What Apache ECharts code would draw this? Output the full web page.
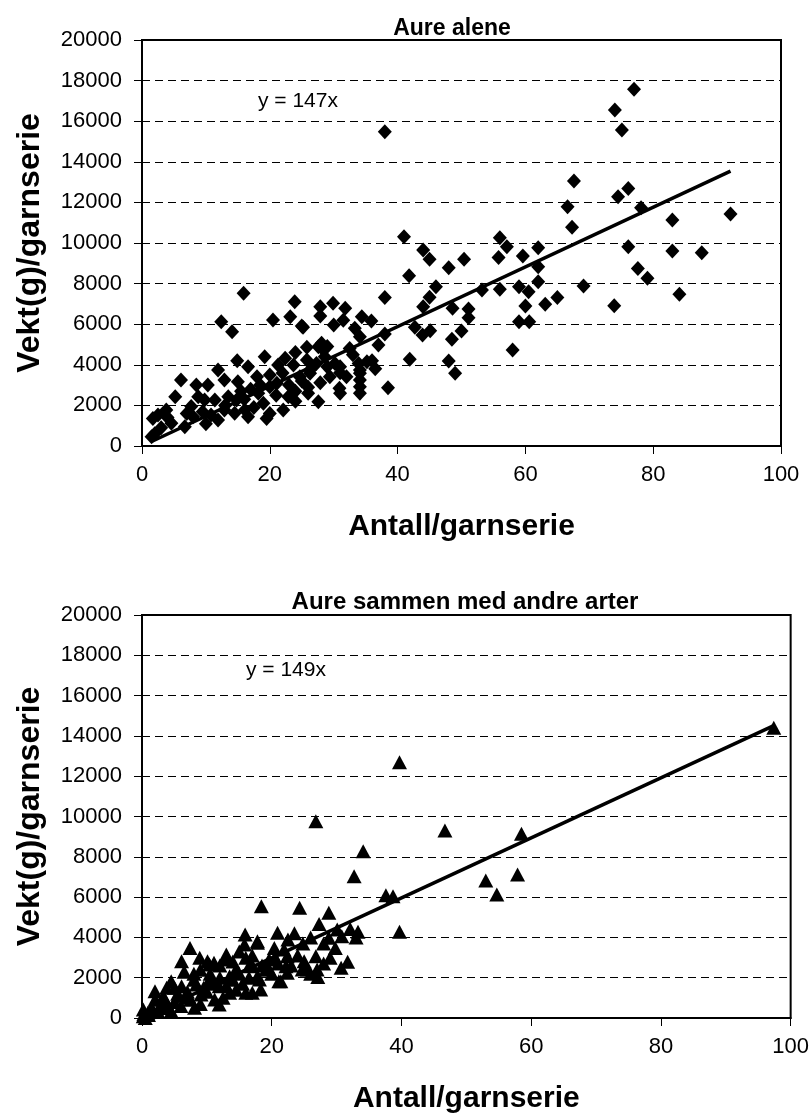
<!DOCTYPE html>
<html>
<head>
<meta charset="utf-8">
<script src="https://cdn.jsdelivr.net/npm/echarts@6/dist/echarts.min.js"></script>
<style>
html,body{margin:0;padding:0;background:#fff;}
#c{width:812px;height:1118px;}
</style>
</head>
<body>
<div id="c"></div>
<script>
// ---- Data ----
var titles = ['Aure alene', 'Aure sammen med andre arter'];
var xAxisTitle = 'Antall/garnserie';
var yAxisTitle = 'Vekt(g)/garnserie';
var slopes = [147, 149];
var equations = ['y = 147x', 'y = 149x'];
var xTicks = [0, 20, 40, 60, 80, 100];
var yTicks = [0, 2000, 4000, 6000, 8000, 10000, 12000, 14000, 16000, 18000, 20000];

// Aure alene: Antall (x) and Vekt (y)
var aloneCount = [77,74,75.1,38,67.6,66.6,67.3,74.5,76.1,78.1,83,92.1,56,57.1,55.8,59.6,62,62,62,76.1,77.6,79.1,83,87.6,84.1,73.9,69.1,65,63.1,56,59,60.5,60,59,60.6,58,53.2,
41,44,45,48,50.4,41.8,46,38,45,44,48.6,51.1,51.1,42.7,45.1,43.9,50,48.5,38,37,41.9,48,49,38.5,
27.9,29.9,31.8,27.9,31.5,30,34.4,35.9,33.3,34.1,25.2,25.8,27.6,28.6,25.8,30.2,33.9,35.2,34.1,31,26.3,27.9,30.9,34.1,
23.9,20.5,23.2,25,28.1,19.2,22.4,23.7,27.3,31,34.1,32,34.1,20,22.9,26,27.6,31,34.1,22.1,18,18.2,19,21.1,24.7,26.3,28.4,29.4,21.3,
12.4,14.1,6.1,5.2,11.9,14.9,16.6,8.5,10.3,12.9,15,3.8,2.5,1.7,4.6,1.5,6.7,8,9.5,10.8,11.9,9.8,11.4,13.5,14.8,16.1,16.6,14.5,12.9,8.8,7.7,15.9,19.5,
17,18.5,16,20,21,23,24,25,26,17.5,13,15.5,2,3,4,22,24,29,32.5,36,29,33,24,20,10,7,36.5];
var aloneWeight = [17570,16550,15570,15480,13050,11790,10770,12280,12690,11740,11130,11430,10260,9820,9280,9360,9770,8830,8090,9820,8750,8260,9610,9520,7470,6910,7880,7310,6980,7720,7850,7600,6900,6120,6120,4730,7680,
10310,9650,9200,8780,9200,8390,7850,7310,7330,6860,6780,6750,6320,5850,5680,5470,5660,5260,5520,4980,4270,4190,3580,2870,
6860,7030,6780,6400,6200,5960,6370,6160,5800,5380,5850,4860,4890,4400,4240,4070,4070,4150,3580,3610,3580,3120,2840,2920,
7110,6210,6370,5910,5060,4400,4320,3990,4070,3910,3740,3410,3250,2920,2430,2600,2180,2600,2600,1770,3410,2600,2100,3090,3410,3740,4730,3410,3990,
6120,5630,3250,2430,3740,4200,3910,3000,3000,3250,3170,1770,1530,1360,1120,460,950,1440,1690,1530,1280,2270,2270,2430,2270,1770,1440,1610,1770,2430,1940,7520,1360,
2800,3000,2300,3500,2500,3000,2200,3200,2900,1900,2000,2700,600,900,1400,3600,4600,4900,4800,4200,3900,4500,2700,1600,1100,1600,3800];

// Aure sammen med andre arter
var mixedCount = [39.7,26.8,46.7,58.5,34.1,32.7,53,57.9,54.7,37.6,38.7,39.7,24.3,18.4,28.8,27.3,32.1,33.3,30.1,30.8,28.8,24.8,29.8,26.8,29,25,31.7,30.7,27,25.5,27.1,
20.9,17.8,20.4,22.4,22.2,19.1,21.4,17,18.1,19.6,7.4,8.9,6.1,10.4,13,15.9,15.8,17.8,21.9,16,24.7,22.4,21.1,
2,4.5,6.1,3.3,8.4,10.4,11.9,13.5,14.5,16,13.5,11.2,8.1,4.5,0.2,1.2,2.8,6.8,9.1,11.9,17.8,18.3,19.6,16.5,0.2,0.9,3.5,11.1,10.1,97.4,
1,1.5,2.5,3,4,5,5.5,6,7,7.5,8,9,9.5,10,10.5,11,12,12.5,13,14,14.5,15,15.5,16.5,17,9,12,14,18.5,20,21,23,24,26,28,0.5,0.3,2,3.8,5,6.5,8,12.8,15,17,20.5,22.5,23.5,28,33,26];
var mixedWeight = [12690,9760,9300,9150,8270,7030,6820,7120,6130,6090,6040,4280,5470,5540,5220,4670,4420,4280,4390,4060,3980,3700,3480,3070,2990,2820,2790,2490,2410,2410,2040,
4230,3810,3480,3070,2570,2410,1830,1250,1910,2900,3480,2990,2820,2650,3150,4140,3650,3730,3400,2990,2410,2240,1830,
1330,1830,1580,1080,1660,1910,1580,2070,2410,1250,1250,920,510,340,90,340,590,1000,1170,670,2070,1410,2410,2570,420,260,920,2740,2820,14400,
150,500,300,700,500,800,1200,600,1300,900,1900,700,1500,1300,2200,1700,2000,1000,1600,1900,1400,2200,1700,2000,2600,2400,2600,2800,2600,2200,2700,2600,3100,2200,2700,0,200,900,1500,1500,2300,2200,2900,3300,3100,3000,3900,4200,3700,4000,4000];

// ---- Build ----
function zip(a, b){ var r=[]; for(var i=0;i<a.length;i++) r.push([a[i], b[i]]); return r; }
function trend(xs, k){
  var mn=Math.min.apply(null,xs), mx=Math.max.apply(null,xs);
  return [[mn, k*mn],[mx, k*mx]];
}
var FONT = 'Liberation Sans';
var grids = [
  {left:142, right:31, top:40, height:406},
  {left:142, right:18, top:615, height:403}
];
function xAx(i){
  return {type:'value', gridIndex:i, min:xTicks[0], max:xTicks[xTicks.length-1], interval:20,
    name:xAxisTitle, nameLocation:'middle', nameGap:66,
    nameTextStyle:{fontFamily:FONT, fontSize:30, fontWeight:'bold', color:'#000'},
    axisLine:{show:true, lineStyle:{color:'#000', width:2}},
    axisTick:{show:true, inside:false, length:8, lineStyle:{color:'#000', width:1}},
    axisLabel:{fontFamily:FONT, fontSize:22, color:'#000', margin:18, formatter:function(v){return String(v);}},
    splitLine:{show:false}};
}
function yAx(i){
  return {type:'value', gridIndex:i, min:yTicks[0], max:yTicks[yTicks.length-1], interval:2000,
    name:yAxisTitle, nameLocation:'middle', nameGap:96, nameRotate:90,
    nameTextStyle:{fontFamily:FONT, fontSize:32, fontWeight:'bold', color:'#000'},
    axisLine:{show:true, lineStyle:{color:'#000', width:2}},
    axisTick:{show:true, inside:false, length:8, lineStyle:{color:'#000', width:1}},
    axisLabel:{fontFamily:FONT, fontSize:22, color:'#000', margin:20, formatter:function(v){return String(v);}},
    splitLine:{show:true, lineStyle:{color:'#000', width:1, type:[8,5]}}};
}
var option = {
  animation:false,
  backgroundColor:'#fff',
  grid: grids.map(function(g){ return Object.assign({show:true, borderColor:'#000', borderWidth:2, backgroundColor:'#fff'}, g); }),
  xAxis:[xAx(0), xAx(1)],
  yAxis:[yAx(0), yAx(1)],
  title:[
    {text:titles[0], left:447, top:12, textAlign:'center', textStyle:{fontFamily:FONT, fontSize:23, fontWeight:'bold', color:'#000'}},
    {text:titles[1], left:460, top:585, textAlign:'center', textStyle:{fontFamily:FONT, fontSize:24, fontWeight:'bold', color:'#000'}}
  ],
  graphic:[
    {type:'text', left:258, top:91, style:{text:equations[0], font:'21px "Liberation Sans"', fill:'#000'}},
    {type:'text', left:246, top:660, style:{text:equations[1], font:'21px "Liberation Sans"', fill:'#000'}}
  ],
  series:[
    {type:'scatter', xAxisIndex:0, yAxisIndex:0, symbol:'diamond', symbolSize:[14,15],
      itemStyle:{color:'#000', opacity:1}, data:zip(aloneCount, aloneWeight), z:2},
    {type:'line', xAxisIndex:0, yAxisIndex:0, data:trend(aloneCount, slopes[0]), symbol:'none',
      lineStyle:{color:'#000', width:3.5}, z:3},
    {type:'scatter', xAxisIndex:1, yAxisIndex:1, symbol:'triangle', symbolSize:[15,14],
      itemStyle:{color:'#000', opacity:1}, data:zip(mixedCount, mixedWeight), z:2},
    {type:'line', xAxisIndex:1, yAxisIndex:1, data:trend(mixedCount, slopes[1]), symbol:'none',
      lineStyle:{color:'#000', width:3.5}, z:3}
  ]
};
var chart = echarts.init(document.getElementById('c'), null, {renderer:'canvas'});
chart.setOption(option);
</script>
</body>
</html>
